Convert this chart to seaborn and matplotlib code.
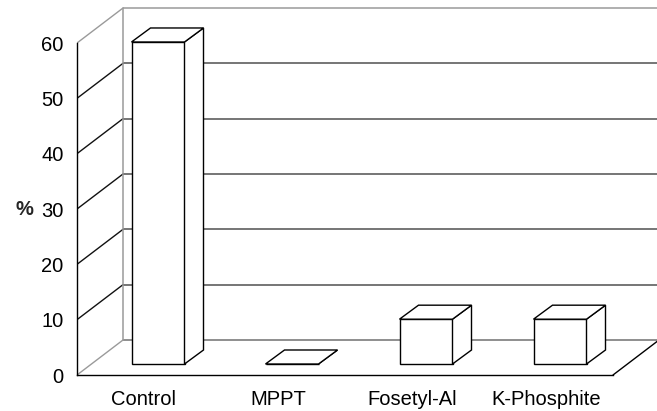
import matplotlib
matplotlib.use('Agg')
import matplotlib.pyplot as plt
import seaborn as sns
from matplotlib.patches import Polygon
from matplotlib.transforms import offset_copy

categories = ['Control', 'MPPT', 'Fosetyl-Al', 'K-Phosphite']
values = [58.2, 0, 8.1, 8.1]
yticks = [0, 10, 20, 30, 40, 50, 60]

sns.set_style('white')
plt.rcParams['font.family'] = ['Liberation Sans', 'DejaVu Sans']

fig = plt.figure(figsize=(6.57, 4.11), dpi=100)
ax = fig.add_axes([77 / 657, 36 / 411, 580 / 657, 368 / 411])
PX_X = 134.0   # pixels per category
PX_Y = 5.533   # pixels per value unit

sns.barplot(x=categories, y=values, color='white', saturation=1,
            edgecolor='black', linewidth=1.0, width=53 / 134,
            errorbar=None, ax=ax, zorder=3)

xmax = -0.5 + 580 / PX_X
ax.set_xlim(-0.5, xmax)
ax.set_ylim(0, 368 / PX_Y)

# wall depth
WDX = 46 / PX_X
WDY = 35 / PX_Y
top = yticks[-1]
for v in yticks:
    if v == top:
        c = '#9a9a9a'
    elif v == 0:
        c = '#707070'
    else:
        c = '#505050'
    ax.plot([-0.5 + WDX, xmax], [v + WDY, v + WDY], color=c, lw=1.1, zorder=1,
            solid_capstyle='butt')
    dc = '#9a9a9a' if v in (0, top) else '#111111'
    ax.plot([-0.5, -0.5 + WDX], [v, v + WDY], color=dc, lw=1.0, zorder=1)
ax.plot([-0.5 + WDX] * 2, [WDY, top + WDY], color='#9a9a9a', lw=1.1, zorder=1)
ax.plot([3.5, 3.5 + WDX], [0, WDY], color='black', lw=1.0, zorder=1)

# 3D bars
trans = offset_copy(ax.transData, fig=fig, x=14, y=11, units='dots')
BDX = 19 / PX_X
BDY = 14 / PX_Y
for p in list(ax.patches):
    p.set_transform(trans)
    x0 = p.get_x()
    x1 = x0 + p.get_width()
    h = p.get_height()
    topface = Polygon([(x0, h), (x1, h), (x1 + BDX, h + BDY), (x0 + BDX, h + BDY)],
                      closed=True, facecolor='white', edgecolor='black', lw=1.0,
                      transform=trans, zorder=3)
    side = Polygon([(x1, 0), (x1 + BDX, BDY), (x1 + BDX, h + BDY), (x1, h)],
                   closed=True, facecolor='white', edgecolor='black', lw=1.0,
                   transform=trans, zorder=3)
    ax.add_patch(side)
    ax.add_patch(topface)

# axes styling
for s in ['top', 'right']:
    ax.spines[s].set_visible(False)
for s in ['left', 'bottom']:
    ax.spines[s].set_color('black')
    ax.spines[s].set_linewidth(1.0)
ax.spines['left'].set_bounds(0, top)
ax.spines['bottom'].set_bounds(-0.5, 3.5)

FS = 14.5
ax.set_yticks(yticks)
ax.tick_params(axis='y', direction='out', length=3.6, width=0.9, pad=6,
               labelsize=FS, colors='black')
ax.set_xticks(range(len(categories)))
ax.set_xticklabels(categories)
ax.tick_params(axis='x', which='major', length=0, pad=11, labelsize=FS,
               colors='black')
ax.set_xticks([-0.5, 0.5, 1.5, 2.5, 3.5], minor=True)
ax.tick_params(axis='x', which='minor', direction='out', length=3.6, width=0.9,
               color='black')
ax.set_xlabel('')
ax.set_ylabel('%', rotation=0, fontsize=FS, fontweight='bold', ha='center', va='center')
ax.yaxis.set_label_coords(-0.091, 0.451)

fig.savefig('out.png', dpi=100)
